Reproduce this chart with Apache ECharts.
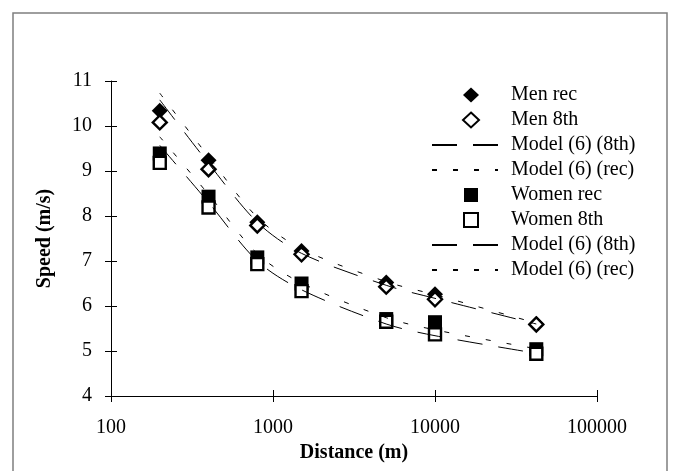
<!DOCTYPE html>
<html>
<head>
<meta charset="utf-8">
<script src="https://cdn.jsdelivr.net/npm/echarts@6/dist/echarts.min.js"></script>
<style>
  html, body { margin: 0; padding: 0; background: #fff; }
  #chart { width: 674px; height: 471px; }
</style>
</head>
<body>
<div id="chart"></div>
<script>
// distances (m): 200, 400, 800, 1500, 5000, 10000, marathon
const distances = [200, 400, 800, 1500, 5000, 10000, 42195];

const menRec = [10.34, 9.24, 7.86, 7.22, 6.52, 6.26, 5.60];
const men8th = [10.08, 9.04, 7.79, 7.15, 6.43, 6.15, 5.59];
const menModel8th = [10.58, 9.17, 7.86, 7.17, 6.46, 6.17, 5.60];
const menModelRec = [10.73, 9.32, 7.97, 7.27, 6.54, 6.25, 5.62];

const womenRec = [9.39, 8.43, 7.08, 6.50, 5.71, 5.64, 5.04];
const women8th = [9.18, 8.19, 6.93, 6.33, 5.65, 5.37, 4.94];
const womenModel8th = [9.57, 8.30, 7.00, 6.36, 5.60, 5.34, 4.95];
const womenModelRec = [9.76, 8.48, 7.16, 6.51, 5.74, 5.47, 5.05];

const yTicks = [4, 11, 1]; // min, max, interval

const serif = '"Liberation Serif", "DejaVu Serif", serif';

// legend icons: small symbol placed inside the 66x16 legend box
const diamondIcon = 'path://M0,8L0,8M39,0.5L47,8L39,15.5L31,8ZM66,8L66,8';
const squareIcon = 'path://M0,8L0,8M32,1H46V15H32ZM66,8L66,8';

const pairs = (vals) => distances.map((d, i) => [d, vals[i]]);

const filled = (name, symbol, vals) => ({
  name,
  type: 'scatter',
  symbol,
  symbolSize: symbol === 'diamond' ? 16 : 14,
  itemStyle: { color: '#000', opacity: 1 },
  data: pairs(vals),
  z: 3
});

const open = (name, symbol, vals) => ({
  name,
  type: 'scatter',
  symbol,
  symbolSize: symbol === 'diamond' ? 14 : 12,
  itemStyle: { color: '#fff', borderColor: '#000', borderWidth: 2.4, opacity: 1 },
  data: pairs(vals),
  z: 4
});

const model = (name, vals, dash) => ({
  name,
  type: 'line',
  symbol: 'none',
  smooth: 0.3,
  lineStyle: { color: '#000', width: 1, type: dash },
  itemStyle: { color: '#000', opacity: 0 },
  data: pairs(vals),
  z: 5
});

const longDash = [25, 16];
const shortDash = [5, 16];

const chart = echarts.init(document.getElementById('chart'));

chart.setOption({
  animation: false,
  backgroundColor: '#fff',
  textStyle: { fontFamily: serif },
  graphic: [{
    type: 'rect',
    shape: { x: 13, y: 13, width: 654, height: 480 },
    style: { fill: 'none', stroke: '#7f7f7f', lineWidth: 1.5 },
    silent: true
  }],
  grid: { left: 111, right: 77, top: 81, bottom: 75 },
  legend: {
    orient: 'vertical',
    left: 426,
    top: 80,
    itemWidth: 66,
    itemHeight: 16,
    itemGap: 5,
    textStyle: {
      fontFamily: serif,
      fontSize: 20,
      color: '#000',
      lineHeight: 20,
      padding: [0, 0, 0, 8]
    },
    data: [
      { name: 'Men rec', icon: diamondIcon },
      { name: 'Men 8th', icon: diamondIcon },
      { name: 'Model (6) (8th)', itemStyle: { opacity: 0 } },
      { name: 'Model (6) (rec)', itemStyle: { opacity: 0 } },
      { name: 'Women rec', icon: squareIcon },
      { name: 'Women 8th', icon: squareIcon },
      { name: 'Model (6) (8th) ', itemStyle: { opacity: 0 } },
      { name: 'Model (6) (rec) ', itemStyle: { opacity: 0 } }
    ]
  },
  xAxis: [{
    type: 'log',
    logBase: 10,
    min: 100,
    max: 100000,
    name: 'Distance (m)',
    nameLocation: 'middle',
    nameGap: 40,
    nameTextStyle: { fontFamily: serif, fontSize: 20, fontWeight: 'bold', color: '#000' },
    axisLine: { lineStyle: { color: '#000', width: 1 } },
    axisTick: { show: true, length: 6, lineStyle: { color: '#000' } },
    minorTick: { show: false },
    splitLine: { show: false },
    axisLabel: {
      fontFamily: serif, fontSize: 20, color: '#000', margin: 22,
      formatter: (v) => String(Math.round(v))
    }
  }, {
    type: 'log',
    logBase: 10,
    min: 100,
    max: 100000,
    position: 'bottom',
    axisLine: { show: false },
    axisTick: { show: true, inside: true, length: 6, lineStyle: { color: '#000' } },
    axisLabel: { show: false },
    splitLine: { show: false }
  }],
  yAxis: [{
    type: 'value',
    min: yTicks[0],
    max: yTicks[1],
    interval: yTicks[2],
    name: 'Speed (m/s)',
    nameLocation: 'middle',
    nameGap: 56,
    nameTextStyle: { fontFamily: serif, fontSize: 20, fontWeight: 'bold', color: '#000' },
    axisLine: { show: true, lineStyle: { color: '#000', width: 1 } },
    axisTick: { show: true, length: 6, lineStyle: { color: '#000' } },
    splitLine: { show: false },
    axisLabel: { fontFamily: serif, fontSize: 20, color: '#000', margin: 19 }
  }, {
    type: 'value',
    min: yTicks[0],
    max: yTicks[1],
    interval: yTicks[2],
    position: 'left',
    axisLine: { show: false },
    axisTick: { show: true, inside: true, length: 6, lineStyle: { color: '#000' } },
    axisLabel: { show: false },
    splitLine: { show: false }
  }],
  series: [
    filled('Men rec', 'diamond', menRec),
    open('Men 8th', 'diamond', men8th),
    model('Model (6) (8th)', menModel8th, longDash),
    model('Model (6) (rec)', menModelRec, shortDash),
    filled('Women rec', 'rect', womenRec),
    open('Women 8th', 'rect', women8th),
    model('Model (6) (8th) ', womenModel8th, longDash),
    model('Model (6) (rec) ', womenModelRec, shortDash)
  ]
});
</script>
</body>
</html>
